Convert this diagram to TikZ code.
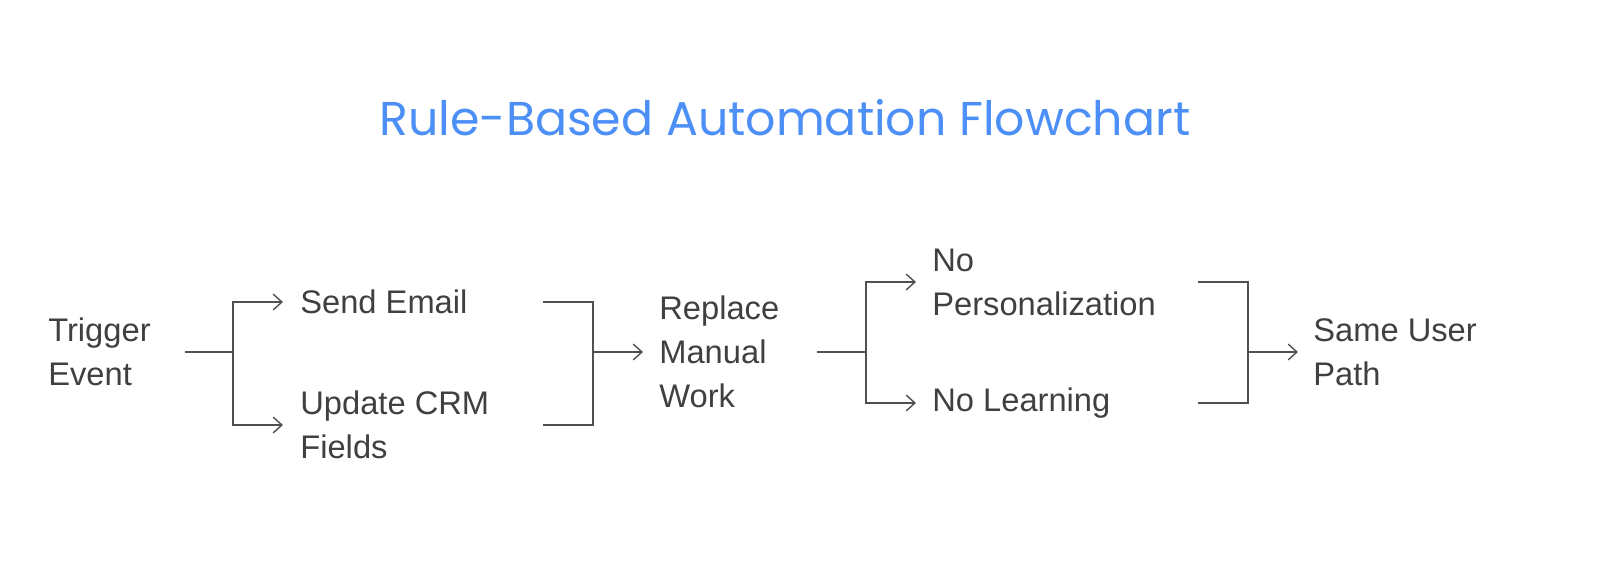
\documentclass[tikz,border=0pt]{standalone}
\usepackage{fontspec}
\setmainfont{Liberation Sans}
\newfontfamily\titlefont{Poppins}
\usetikzlibrary{arrows.meta}
\definecolor{titleBlue}{HTML}{4C8FF7}
\definecolor{textGray}{HTML}{404040}
\definecolor{lineGray}{HTML}{505050}
\tikzset{
  stepText/.style={anchor=west, inner sep=0pt, align=left, text=textGray,
    font=\fontsize{18.6}{25}\selectfont},
  plainLine/.style={draw=lineGray, line width=0.8pt},
  branchArrow/.style={plainLine, -{Straight Barb[length=5pt,width=9pt]}}
}

\begin{document}
\begin{tikzpicture}[x=0.02cm, y=-0.02cm]
  \useasboundingbox (0,0) rectangle (1600,565);
  \node (TITLE) at (785,118) [text=titleBlue, font=\titlefont\fontsize{27}{30}\selectfont] {Rule-Based Automation Flowchart};

  \node (TRIG) at (48,352) [stepText] {Trigger\\Event};
  \node (MAIL) at (300,302) [stepText] {Send Email};
  \node (CRM) at (300,425) [stepText] {Update CRM\\Fields};
  \node (MANU) at (659,352) [stepText] {Replace\\Manual\\Work};
  \node (PERS) at (932,282) [stepText] {No\\Personalization};
  \node (LEARN) at (932,403) [stepText] {No Learning};
  \node (PATH) at (1313,352) [stepText] {Same User\\Path};

  % branch and join points
  \coordinate (TRIGOUT) at (185,352);
  \coordinate (SPLITA) at (233,352);
  \coordinate (MAILOUT) at (543,302);
  \coordinate (CRMOUT) at (543,425);
  \coordinate (JOINA) at (593,352);
  \coordinate (MANUOUT) at (817,352);
  \coordinate (SPLITB) at (866,352);
  \coordinate (PERSOUT) at (1198,282);
  \coordinate (LEARNOUT) at (1198,403);
  \coordinate (JOINB) at (1248,352);

  \draw [plainLine] (TRIGOUT) -- (SPLITA);
  \draw [branchArrow, shorten >=17*0.02cm] (SPLITA) |- (MAIL.west);
  \draw [branchArrow, shorten >=17*0.02cm] (SPLITA) |- (CRM.west);
  \draw [plainLine] (MAILOUT) -| (JOINA) |- (CRMOUT);
  \draw [branchArrow, shorten >=16*0.02cm] (JOINA) -- (MANU.west);
  \draw [plainLine] (MANUOUT) -- (SPLITB);
  \draw [branchArrow, shorten >=16*0.02cm] (SPLITB) |- (PERS.west);
  \draw [branchArrow, shorten >=16*0.02cm] (SPLITB) |- (LEARN.west);
  \draw [plainLine] (PERSOUT) -| (JOINB) |- (LEARNOUT);
  \draw [branchArrow, shorten >=15*0.02cm] (JOINB) -- (PATH.west);
\end{tikzpicture}
\end{document}
